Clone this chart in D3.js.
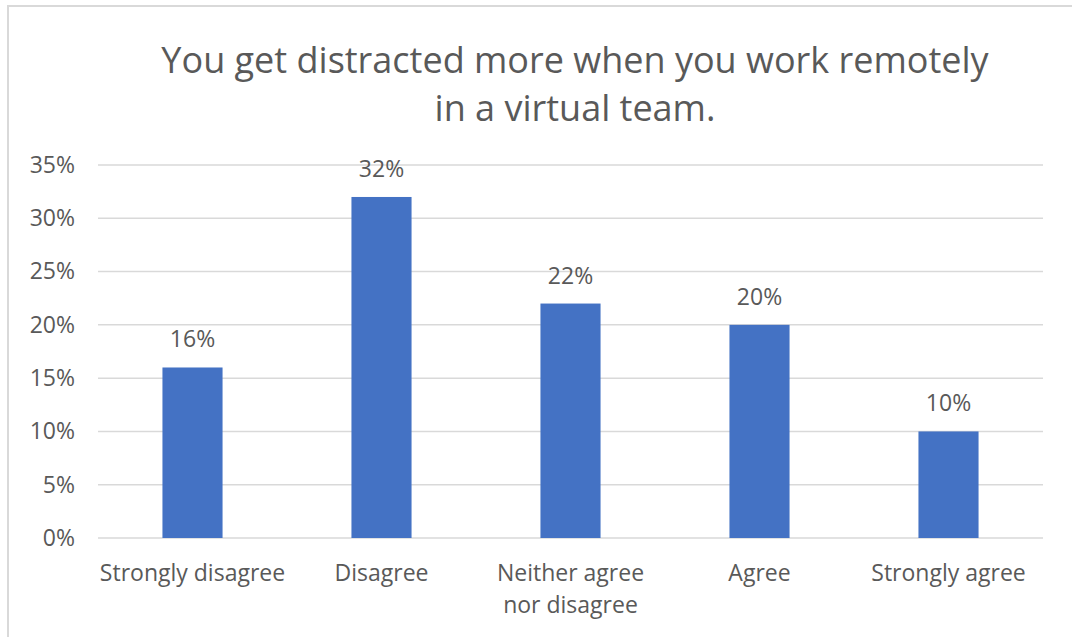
<!DOCTYPE html>
<html>
<head>
<meta charset="utf-8">
<script src="https://cdn.jsdelivr.net/npm/d3@7"></script>
<style>
  html, body { margin: 0; padding: 0; background: #fff; }
  svg { display: block; }
  text { font-family: "Open Sans", "Noto Sans", sans-serif; fill: #595959; }
</style>
</head>
<body>
<svg id="chart" width="1072" height="637"></svg>
<script>
const categories = [["Strongly disagree"], ["Disagree"], ["Neither agree", "nor disagree"], ["Agree"], ["Strongly agree"]];
const values = [16, 32, 22, 20, 10];
const yTicks = [0, 5, 10, 15, 20, 25, 30, 35];
const titleLines = ["You get distracted more when you work remotely", "in a virtual team."];

const svg = d3.select("#chart");
const W = 1072, H = 637;
const plot = { left: 98, right: 1043, top: 165, bottom: 538 };
const labelSize = 23;

// chart frame
svg.append("rect")
  .attr("x", 8).attr("y", 6)
  .attr("width", W + 10).attr("height", H + 10)
  .attr("fill", "#fff").attr("stroke", "#d9d9d9").attr("stroke-width", 2);

const x = d3.scaleBand()
  .domain(categories.map((d, i) => i))
  .range([plot.left, plot.right])
  .padding(0);
const barW = x.bandwidth() * 0.318;

const y = d3.scaleLinear().domain([0, 35]).range([plot.bottom, plot.top]);

// gridlines
svg.append("g").selectAll("line").data(yTicks).join("line")
  .attr("x1", plot.left).attr("x2", plot.right)
  .attr("y1", d => y(d)).attr("y2", d => y(d))
  .attr("stroke", "#d9d9d9").attr("stroke-width", 1.5);

// y axis labels
const yAxis = d3.axisLeft(y).tickValues(yTicks).tickFormat(d => d + "%").tickSize(0).tickPadding(0);
const gy = svg.append("g").attr("transform", `translate(75,0)`).call(yAxis);
gy.select(".domain").remove();
gy.selectAll("text")
  .attr("font-size", labelSize)
  .attr("fill", "#595959")
  .attr("font-family", '"Open Sans", "Noto Sans", sans-serif');

// bars
svg.append("g").selectAll("rect").data(values).join("rect")
  .attr("x", (d, i) => x(i) + x.bandwidth() / 2 - barW / 2)
  .attr("y", d => y(d))
  .attr("width", barW)
  .attr("height", d => y(0) - y(d))
  .attr("fill", "#4472C4");

// value labels
svg.append("g").selectAll("text").data(values).join("text")
  .attr("x", (d, i) => x(i) + x.bandwidth() / 2)
  .attr("y", d => y(d) - 20)
  .attr("text-anchor", "middle")
  .attr("font-size", labelSize)
  .text(d => d + "%");

// category labels
const cat = svg.append("g").selectAll("text").data(categories).join("text")
  .attr("x", (d, i) => x(i) + x.bandwidth() / 2)
  .attr("y", 581)
  .attr("text-anchor", "middle")
  .attr("font-size", labelSize);
cat.selectAll("tspan").data(d => d).join("tspan")
  .attr("x", function () { return d3.select(this.parentNode).attr("x"); })
  .attr("dy", (d, i) => i === 0 ? 0 : 32)
  .text(d => d);

// title
svg.append("g").selectAll("text").data(titleLines).join("text")
  .attr("x", 575)
  .attr("y", (d, i) => 73 + i * 48)
  .attr("text-anchor", "middle")
  .attr("font-size", 36)
  .text(d => d);
</script>
</body>
</html>
